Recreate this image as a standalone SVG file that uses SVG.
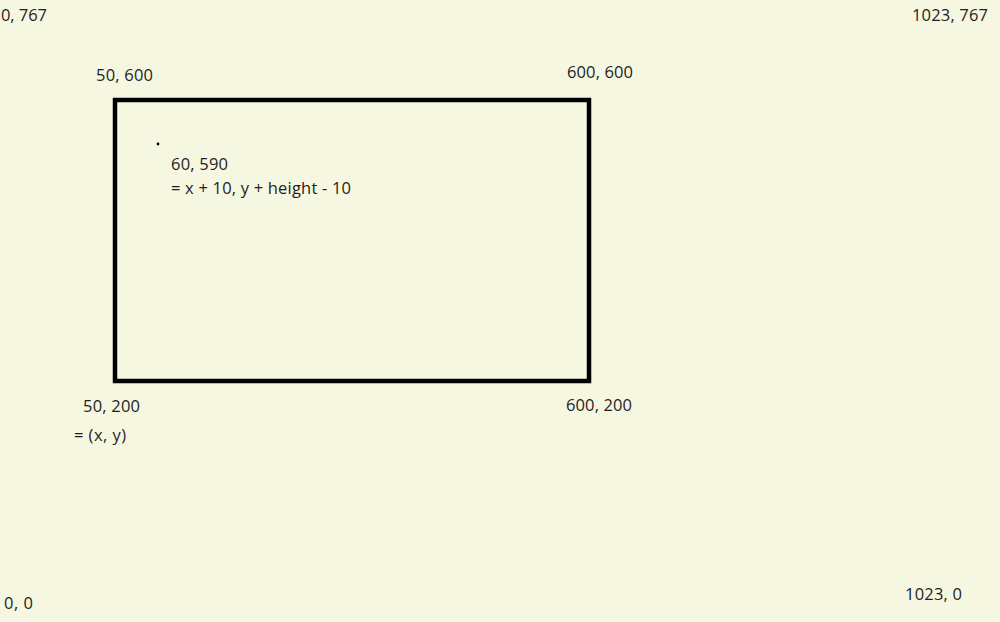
<svg xmlns="http://www.w3.org/2000/svg" width="1000" height="622" viewBox="0 0 1000 622">
<style>
text{font-family:"Open Sans","Liberation Sans",sans-serif;font-size:16.5px;fill:#1e1e1e}
.box{fill:none;stroke:#000;stroke-width:4.5}
</style>
<rect x="0" y="0" width="1000" height="622" fill="#f6f7e1"/>
<g id="labels-corners">
<text x="1" y="21" textLength="46">0, 767</text>
<text x="912" y="21" textLength="76">1023, 767</text>
<text x="4" y="609" textLength="29">0, 0</text>
<text x="905" y="600" textLength="57">1023, 0</text>
</g>
<g id="rectangle">
<rect class="box" x="115" y="100" width="474" height="281"/>
<circle cx="158" cy="144" r="1.4" fill="#000"/>
<text x="96" y="81" textLength="57">50, 600</text>
<text x="567" y="78" textLength="66">600, 600</text>
<text x="171" y="170" textLength="57">60, 590</text>
<text x="171" y="194" textLength="180">= x + 10, y + height - 10</text>
<text x="83" y="412" textLength="57">50, 200</text>
<text x="74" y="441" textLength="52">= (x, y)</text>
<text x="566" y="411" textLength="66">600, 200</text>
</g>
</svg>
